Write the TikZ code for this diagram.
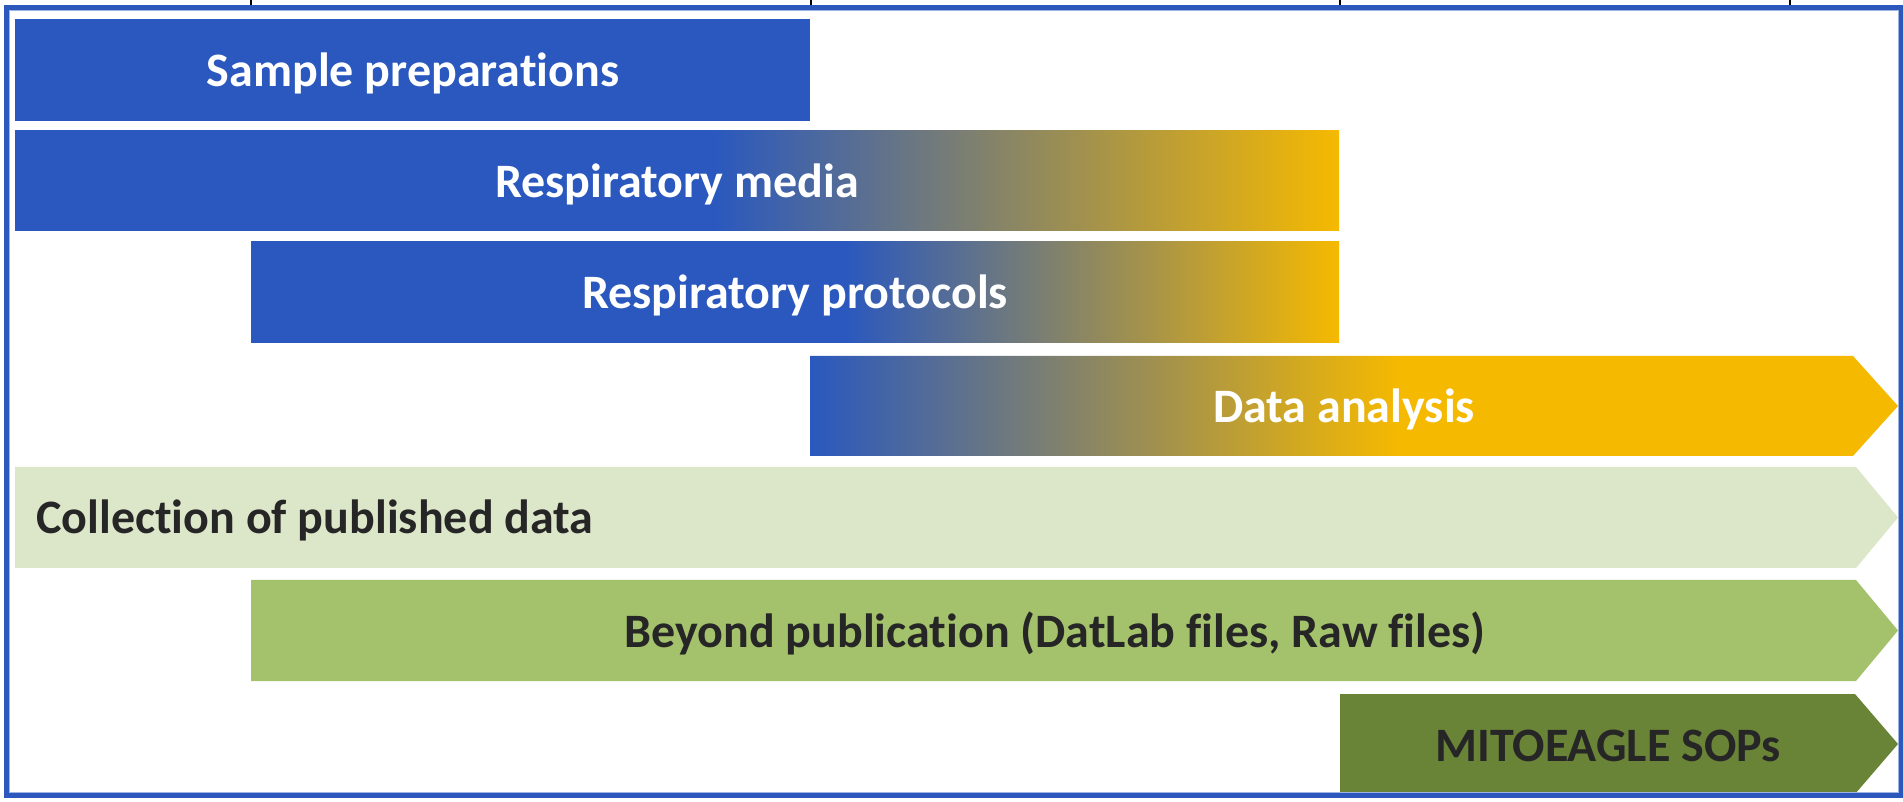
\documentclass[tikz,border=0pt]{standalone}
\usepackage{fontspec}
\setmainfont{Carlito}[Ligatures=NoCommon]
\definecolor{barblue}{RGB}{42,88,190}
\definecolor{baryellow}{RGB}{245,185,0}
\definecolor{lightgreen}{RGB}{220,230,200}
\definecolor{midgreen}{RGB}{164,194,108}
\definecolor{darkgreen}{RGB}{106,132,55}
\definecolor{frameblue}{RGB}{44,88,190}
\definecolor{framelight}{RGB}{160,180,228}
\definecolor{darktext}{RGB}{38,38,38}
\pgfdeclarehorizontalshading{mediashade}{100bp}{color(0bp)=(barblue); color(51.4bp)=(barblue); color(75bp)=(baryellow); color(100bp)=(baryellow)}
\pgfdeclarehorizontalshading{protoshade}{100bp}{color(0bp)=(barblue); color(52.3bp)=(barblue); color(75bp)=(baryellow); color(100bp)=(baryellow)}
\pgfdeclarehorizontalshading{datashade}{100bp}{color(0bp)=(barblue); color(25bp)=(barblue); color(52.1bp)=(baryellow); color(100bp)=(baryellow)}
\begin{document}
\begin{tikzpicture}[x=1pt,y=1pt,
  lbl/.style={anchor=base,inner sep=0pt,font=\bfseries\fontsize{48}{57}\selectfont},
  whitelbl/.style={lbl,text=white},
  darklbl/.style={lbl,text=darktext}
]
\useasboundingbox (0,0) rectangle (1903,801);
\fill[white] (0,0) rectangle (1903,801);
% ticks
\foreach \tx in {251,811,1340,1790} \draw[line width=1.5pt,black] (\tx,801) -- (\tx,795);
% Sample preparations
\fill[barblue] (15,680) rectangle (810,782);
\node[whitelbl] (sp) at (413,714) {Sample preparations};
% Respiratory media
\shade[shading=mediashade] (15,570) rectangle (1339,670);
\node[whitelbl] (rm) at (677,603) {Respiratory media};
% Respiratory protocols
\shade[shading=protoshade] (251,458) rectangle (1339,559);
\node[whitelbl] (rp) at (795,492) {Respiratory protocols};
% Data analysis
\shade[shading=datashade] (810,445) -- (1853,445) -- (1898,395) -- (1853,345) -- (810,345) -- cycle;
\node[whitelbl] (da) at (1344,378) {Data analysis};
% Collection of published data
\fill[lightgreen] (15,334) -- (1856,334) -- (1898,283.5) -- (1856,233) -- (15,233) -- cycle;
\node[darklbl,anchor=base west] (cp) at (36,267) {Collection of published data};
% Beyond publication
\fill[midgreen] (251,221) -- (1856,221) -- (1898,170.5) -- (1856,120) -- (251,120) -- cycle;
\node[darklbl] (bp) at (1055,154) {Beyond publication (DatLab files, Raw files)};
% MITOEAGLE SOPs
\fill[darkgreen] (1340,107) -- (1855,107) -- (1898,57) -- (1855,7) -- (1340,7) -- cycle;
\node[darklbl] (ms) at (1608,40) {MITOEAGLE SOPs};
% frame
\draw[framelight,line width=1pt] (9.5,790.5) rectangle (1898,8.5);
\draw[frameblue,line width=5pt] (6,793.5) rectangle (1901,5.5);
\end{tikzpicture}
\end{document}
